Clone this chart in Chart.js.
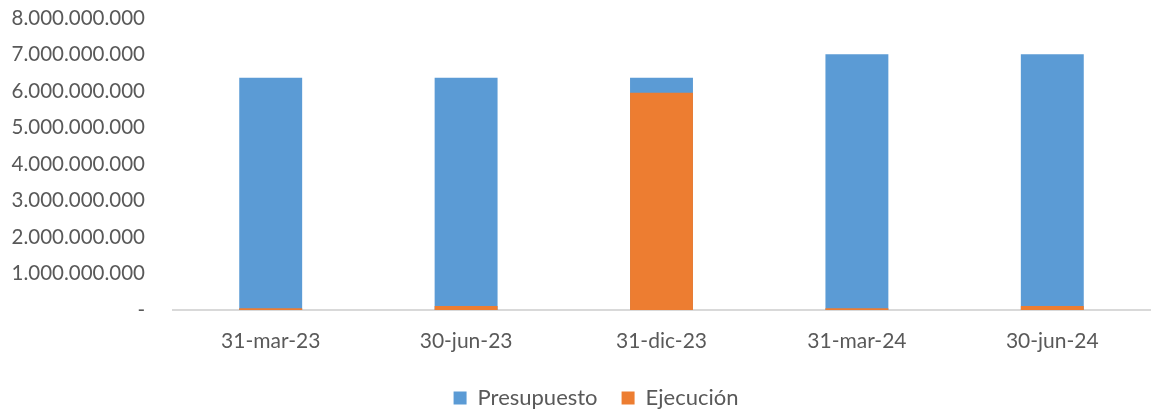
<!DOCTYPE html>
<html><head><meta charset="utf-8">
<script src="https://cdn.jsdelivr.net/npm/chart.js@4/dist/chart.umd.min.js"></script>
<style>html,body{margin:0;padding:0;background:#fff;overflow:hidden}#wrap{position:relative;width:1161px;height:413px}</style>
</head><body><div id="wrap"><canvas id="c"></canvas></div>
<script>
const categories = ["31-mar-23", "30-jun-23", "31-dic-23", "31-mar-24", "30-jun-24"];
const presupuesto = [6360000000, 6360000000, 6360000000, 7010000000, 7010000000];
const ejecucion = [50000000, 110000000, 5950000000, 50000000, 110000000];
const yTicks = [0, 1000000000, 2000000000, 3000000000, 4000000000, 5000000000, 6000000000, 7000000000, 8000000000];

function fmt(v){ if (v === 0) return "-"; return Math.round(v).toString().replace(/\B(?=(\d{3})+(?!\d))/g, "."); }
const FONT = "Lato";
const GREY = "#595959";
const legendShift = {id: 'legendShift', afterLayout(chart){ chart.legend.left += 17; chart.legend.right += 17; }};
new Chart(document.getElementById('c'), {
  type: 'bar',
  data: {
    labels: categories,
    datasets: [
      {label: "Presupuesto", data: presupuesto, backgroundColor: "#5B9BD5", order: 1},
      {label: "Ejecución", data: ejecucion, backgroundColor: "#ED7D31", order: 0}
    ]
  },
  plugins: [legendShift],
  options: {
    responsive: true, maintainAspectRatio: false, animation: false,
    layout: {padding: {left: 8, right: 11, top: 0, bottom: -6}},
    datasets: {bar: {categoryPercentage: 1, barPercentage: 0.322}},
    plugins: {
      tooltip: {enabled: false},
      legend: {position: 'bottom', labels: {boxWidth: 13, boxHeight: 13, color: GREY, padding: 24,
        font: {family: FONT, size: 22}, sort: (a, b) => a.datasetIndex - b.datasetIndex}}
    },
    scales: {
      x: {stacked: true, grid: {display: false, drawTicks: false}, border: {color: "#D9D9D9", width: 2},
        afterFit: s => { s.height = 53; },
        ticks: {color: GREY, font: {family: FONT, size: 21}, padding: 19, maxRotation: 0}},
      y: {min: 0, max: 8000000000, grid: {display: false, drawTicks: false}, border: {display: false},
        afterBuildTicks: s => { s.ticks = yTicks.map(v => ({value: v})); },
        afterFit: s => { s.width = 165; s.paddingTop = 18; s.paddingBottom = 12; },
        ticks: {color: GREY, font: {family: FONT, size: 20.5}, padding: 28, callback: v => fmt(v)}}
    }
  }
});
</script></body></html>
